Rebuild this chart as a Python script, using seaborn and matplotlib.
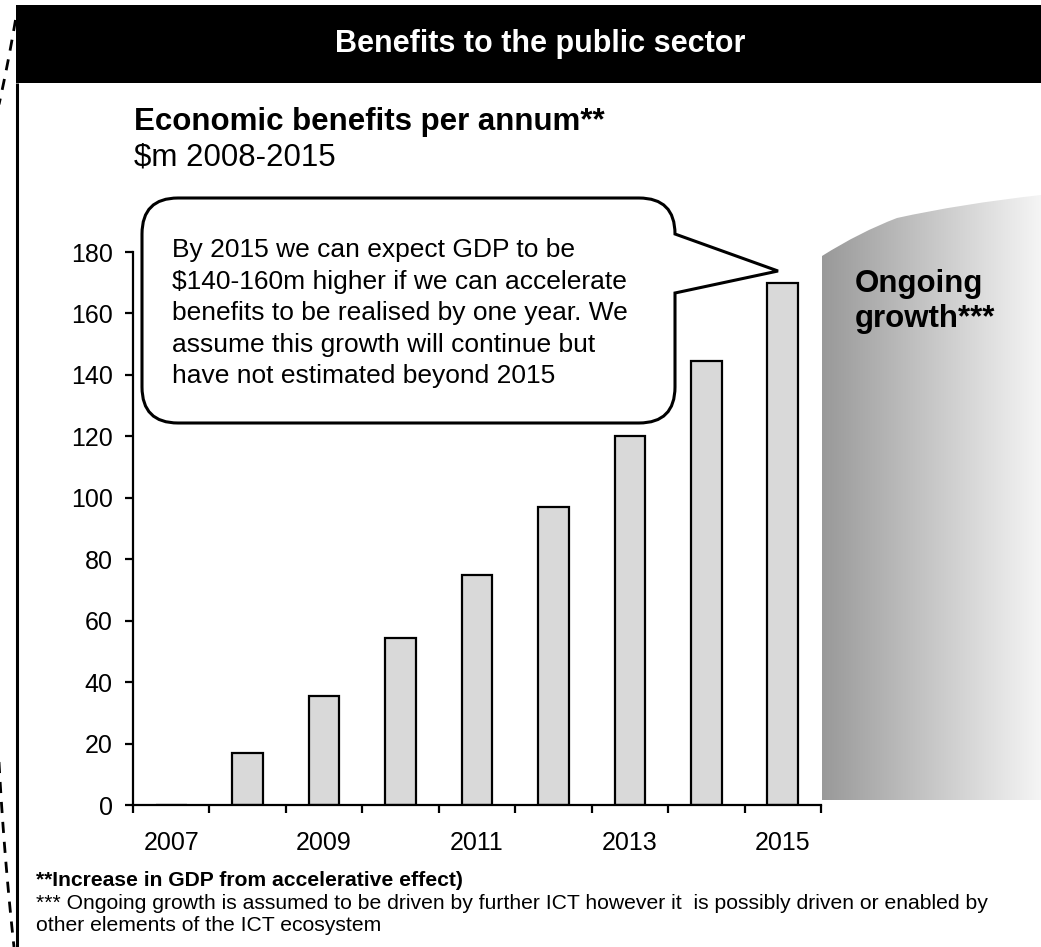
import numpy as np
import pandas as pd
import matplotlib
matplotlib.use("Agg")
import matplotlib.pyplot as plt
import seaborn as sns
from matplotlib.patches import Rectangle, PathPatch
from matplotlib.path import Path

# ---------------- data ----------------
years = ["2007", "2008", "2009", "2010", "2011", "2012", "2013", "2014", "2015"]
values = [0, 17, 35.5, 54.5, 75, 97, 120, 144.5, 170]
y_ticks = [0, 20, 40, 60, 80, 100, 120, 140, 160, 180]
x_label_years = ["2007", "2009", "2011", "2013", "2015"]

header_text = "Benefits to the public sector"
title_text = "Economic benefits per annum**"
subtitle_text = "$m 2008-2015"
callout_lines = [
    "By 2015 we can expect GDP to be",
    "$140-160m higher if we can accelerate",
    "benefits to be realised by one year. We",
    "assume this growth will continue but",
    "have not estimated beyond 2015",
]
ongoing_lines = ["Ongoing", "growth***"]
foot1 = "**Increase in GDP from accelerative effect)"
foot2 = "*** Ongoing growth is assumed to be driven by further ICT however it  is possibly driven or enabled by"
foot3 = "other elements of the ICT ecosystem"

# ---------------- style ----------------
sns.set_theme(style="white")
plt.rcParams["font.family"] = ["Liberation Sans", "DejaVu Sans"]
plt.rcParams["text.color"] = "black"

W, H = 1041, 947
fig = plt.figure(figsize=(W / 100, H / 100), dpi=100)
fig.patch.set_facecolor("white")

# main chart axes
ax = fig.add_axes([133 / W, 1 - 805 / H, (821 - 133) / W, (805 - 252) / H])
df = pd.DataFrame({"year": years, "value": values})
sns.barplot(data=df, x="year", y="value", color="#d9d9d9", saturation=1,
            edgecolor="black", linewidth=1.6, width=0.4, ax=ax)
ax.set_facecolor("none")
ax.set_xlim(-0.5, len(years) - 0.5)
ax.set_ylim(0, 180)
ax.set_xlabel("")
ax.set_ylabel("")
for s in ["top", "right"]:
    ax.spines[s].set_visible(False)
for s in ["left", "bottom"]:
    ax.spines[s].set_color("black")
    ax.spines[s].set_linewidth(1.6)
ax.set_yticks(y_ticks)
ax.set_yticklabels([str(v) for v in y_ticks])
label_pos = [years.index(y) for y in x_label_years]
ax.set_xticks(label_pos)
ax.set_xticklabels(x_label_years)
ax.set_xticks(np.arange(-0.5, len(years)), minor=True)
ax.tick_params(axis="x", which="major", length=0, pad=19, labelsize=18, labelcolor="black")
ax.tick_params(axis="x", which="minor", length=6, width=1.6, direction="out", color="black", bottom=True)
ax.tick_params(axis="y", which="major", length=5.5, width=1.6, direction="out", pad=9,
               labelsize=18, labelcolor="black", color="black", left=True)

# overlay axes in pixel coordinates
oax = fig.add_axes([0, 0, 1, 1], zorder=5)
oax.set_xlim(0, W)
oax.set_ylim(H, 0)
oax.axis("off")
oax.patch.set_alpha(0)

# header band
oax.add_patch(Rectangle((16, 5), W - 16, 78, facecolor="black", edgecolor="none"))
oax.text(540, 44, header_text, color="white", fontsize=22, fontweight="bold",
         ha="center", va="center")
# left frame line
oax.plot([17, 17], [83, H], color="black", lw=2.2, solid_capstyle="butt")
# dashed bracket curves
t = np.linspace(0, 1, 30)
oax.plot(15.5 - 17 * t - 3 * t ** 2, 20 + 100 * t, color="black", lw=2, ls=(0, (4, 3.2)))
oax.plot(-1 + 10 * t + 5 * t ** 2, 762 + 185 * t, color="black", lw=2, ls=(0, (4, 3.2)))

# titles
oax.text(134, 130, title_text, fontsize=22.5, fontweight="bold", ha="left", va="baseline")
oax.text(134, 165, subtitle_text, fontsize=22.5, ha="left", va="baseline")

# gradient "ongoing growth" region
grad = np.linspace(0.6, 0.96, 256).reshape(1, -1)
verts = [(822, 800), (822, 256), (860, 232), (897, 218), (960, 204), (1041, 195),
         (1041, 800), (822, 800)]
codes = [Path.MOVETO, Path.LINETO, Path.CURVE3, Path.CURVE3, Path.CURVE3, Path.CURVE3,
         Path.LINETO, Path.CLOSEPOLY]
clip = PathPatch(Path(verts, codes), facecolor="none", edgecolor="none",
                 transform=oax.transData)
oax.add_patch(clip)
im = oax.imshow(np.dstack([grad, grad, grad]), extent=[822, 1041, 800, 190],
                aspect="auto", interpolation="bilinear", zorder=1)
im.set_clip_path(clip)
oax.set_xlim(0, W)
oax.set_ylim(H, 0)
for i, line in enumerate(ongoing_lines):
    oax.text(855, 292 + i * 35, line, fontsize=22.5, fontweight="bold", ha="left",
             va="baseline", zorder=3)

# callout bubble
L, R, T, B, r = 142, 675, 198, 423, 36
tip = (778, 271)
cverts = [
    (L + r, T), (R - r, T), (R, T), (R, T + r),
    tip, (R, 293),
    (R, B - r), (R, B), (R - r, B),
    (L + r, B), (L, B), (L, B - r),
    (L, T + r), (L, T), (L + r, T),
    (L + r, T),
]
ccodes = [
    Path.MOVETO, Path.LINETO, Path.CURVE3, Path.CURVE3,
    Path.LINETO, Path.LINETO,
    Path.LINETO, Path.CURVE3, Path.CURVE3,
    Path.LINETO, Path.CURVE3, Path.CURVE3,
    Path.LINETO, Path.CURVE3, Path.CURVE3,
    Path.CLOSEPOLY,
]
oax.add_patch(PathPatch(Path(cverts, ccodes), facecolor="white", edgecolor="black",
                        lw=2.2, zorder=4, joinstyle="miter"))
for i, line in enumerate(callout_lines):
    oax.text(172, 257 + i * 31.5, line, fontsize=19, ha="left", va="baseline", zorder=5)

# footnotes
oax.text(36, 886, foot1, fontsize=15.2, fontweight="bold", ha="left", va="baseline")
oax.text(36, 909, foot2, fontsize=15.2, ha="left", va="baseline")
oax.text(36, 931, foot3, fontsize=15.2, ha="left", va="baseline")

fig.savefig("out.png", dpi=100, facecolor="white")
